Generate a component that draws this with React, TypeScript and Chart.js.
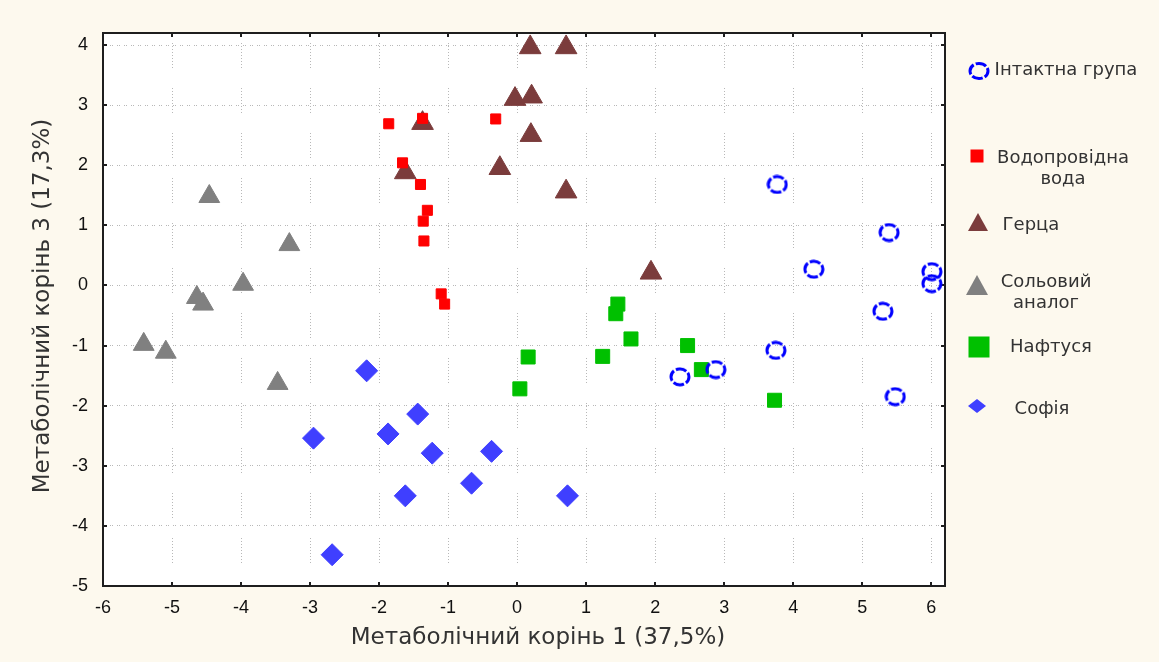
import React, { useEffect, useRef } from "react";
import { Chart, registerables } from "chart.js";

Chart.register(...registerables);

// ---- data ----
const xTickValues = [-6, -5, -4, -3, -2, -1, 0, 1, 2, 3, 4, 5, 6];
const yTickValues = [-5, -4, -3, -2, -1, 0, 1, 2, 3, 4];

const xTitle = "Метаболічний корінь 1 (37,5%)";
const yTitle = "Метаболічний корінь 3 (17,3%)";

const seriesNames = ["Інтактна група", "Водопровідна вода", "Герца", "Сольовий аналог", "Нафтуся", "Софія"];

const intactX = [3.77, 5.39, 4.3, 6.01, 6.01, 5.3, 3.75, 2.36, 2.88, 5.48];
const intactY = [1.68, 0.88, 0.27, 0.23, 0.03, -0.43, -1.08, -1.52, -1.4, -1.85];

const tapX = [-1.86, -1.37, -0.31, -1.66, -1.4, -1.3, -1.36, -1.35, -1.1, -1.05];
const tapY = [2.69, 2.78, 2.77, 2.04, 1.68, 1.25, 1.07, 0.74, -0.14, -0.31];

const hertzX = [0.19, 0.71, -0.03, 0.21, -1.37, 0.2, -0.25, -1.62, 0.71, 1.94];
const hertzY = [3.96, 3.96, 3.1, 3.14, 2.7, 2.5, 1.95, 1.88, 1.56, 0.21];

const saltX = [-4.46, -3.3, -3.97, -4.64, -4.55, -5.41, -5.09, -3.47];
const saltY = [1.48, 0.68, 0.02, -0.2, -0.31, -0.98, -1.11, -1.63];

const naftX = [1.46, 1.43, 1.65, 0.16, 1.24, 0.04, 2.47, 2.67, 3.73];
const naftY = [-0.31, -0.47, -0.89, -1.19, -1.18, -1.72, -1.0, -1.4, -1.91];

const sofiaX = [-2.18, -1.44, -1.87, -2.95, -1.23, -0.37, -0.66, -1.62, -2.68, 0.73];
const sofiaY = [-1.42, -2.14, -2.47, -2.54, -2.79, -2.76, -3.29, -3.5, -4.48, -3.5];

const colors = {
  intact: "#0000ff",
  tap: "#ff0000",
  hertz: "#7b3c3c",
  salt: "#808080",
  naft: "#00c000",
  sofia: "#3f3fff",
};

const toPoints = (xs: number[], ys: number[]) => xs.map((x, i) => ({ x, y: ys[i] }));

function makeRing(w: number, h: number, color: string, lw: number) {
  const c = document.createElement("canvas");
  c.width = w;
  c.height = h;
  const ctx = c.getContext("2d")!;
  ctx.strokeStyle = color;
  ctx.lineWidth = lw;
  ctx.setLineDash([11, 2.2]);
  ctx.lineDashOffset = 4;
  ctx.beginPath();
  ctx.ellipse(w / 2, h / 2, w / 2 - lw / 2 - 0.5, h / 2 - lw / 2 - 0.5, 0, 0, Math.PI * 2);
  ctx.stroke();
  return c;
}

const framePlugin = {
  id: "frame",
  beforeDatasetsDraw(chart: any) {
    const { ctx, chartArea } = chart;
    const { left, right, top, bottom } = chartArea;
    const xs = chart.scales.x;
    const ys = chart.scales.y;
    ctx.save();
    ctx.strokeStyle = "#1e1e1e";
    ctx.lineWidth = 2;
    ctx.strokeRect(left, top, right - left, bottom - top);
    ctx.lineWidth = 2;
    ctx.beginPath();
    xTickValues.forEach((v) => {
      const px = Math.round(xs.getPixelForValue(v));
      ctx.moveTo(px, bottom);
      ctx.lineTo(px, bottom - 4);
      ctx.moveTo(px, top);
      ctx.lineTo(px, top + 4);
    });
    yTickValues.forEach((v) => {
      const py = Math.round(ys.getPixelForValue(v));
      ctx.moveTo(left, py);
      ctx.lineTo(left + 4, py);
      ctx.moveTo(right, py);
      ctx.lineTo(right - 4, py);
    });
    ctx.stroke();
    ctx.restore();
  },
  afterDraw(chart: any) {
    const { ctx } = chart;
    ctx.save();
    ctx.fillStyle = "#333333";
    ctx.font = '23px "DejaVu Sans"';
    ctx.textAlign = "center";
    ctx.textBaseline = "middle";
    ctx.fillText(xTitle, 538, 638);
    ctx.translate(43, 306);
    ctx.rotate(-Math.PI / 2);
    ctx.fillText(yTitle, 0, 0);
    ctx.restore();
  },
};

type LegendItem = {
  lines: string[];
  cx: number;
  cy: number;
  mx: number;
  my: number;
  marker: React.ReactNode;
};

const W = 1159;
const H = 662;

export default function App() {
  const ref = useRef<HTMLCanvasElement | null>(null);

  useEffect(() => {
    const canvas = ref.current;
    if (!canvas) return;
    const ring = makeRing(22, 20, colors.intact, 3);
    const chart = new Chart(canvas, {
      type: "scatter",
      data: {
        datasets: [
          {
            label: seriesNames[0],
            data: toPoints(intactX, intactY),
            pointStyle: ring as any,
            pointRadius: 10,
            backgroundColor: colors.intact,
            borderColor: colors.intact,
          },
          {
            label: seriesNames[1],
            data: toPoints(tapX, tapY),
            pointStyle: "rect",
            pointRadius: 7.1,
            borderWidth: 1,
            backgroundColor: colors.tap,
            borderColor: colors.tap,
          },
          {
            label: seriesNames[2],
            data: toPoints(hertzX, hertzY),
            pointStyle: "triangle",
            pointRadius: 12.5,
            borderWidth: 1,
            backgroundColor: colors.hertz,
            borderColor: colors.hertz,
          },
          {
            label: seriesNames[3],
            data: toPoints(saltX, saltY),
            pointStyle: "triangle",
            pointRadius: 12,
            borderWidth: 1,
            backgroundColor: colors.salt,
            borderColor: colors.salt,
          },
          {
            label: seriesNames[4],
            data: toPoints(naftX, naftY),
            pointStyle: "rect",
            pointRadius: 9.9,
            borderWidth: 1,
            backgroundColor: colors.naft,
            borderColor: colors.naft,
          },
          {
            label: seriesNames[5],
            data: toPoints(sofiaX, sofiaY),
            pointStyle: "rectRot",
            pointRadius: 11,
            borderWidth: 1,
            backgroundColor: colors.sofia,
            borderColor: colors.sofia,
          },
        ],
      },
      options: {
        animation: false,
        responsive: false,
        devicePixelRatio: 1,
        layout: { padding: { left: 0, top: 33, right: 214, bottom: 0 } },
        plugins: {
          legend: { display: false },
          tooltip: { enabled: false },
        },
        scales: {
          x: {
            type: "linear",
            min: -6,
            max: 6.2,
            afterFit: (s: any) => {
              s.height = 76;
            },
            afterBuildTicks: (s: any) => {
              s.ticks = xTickValues.map((v) => ({ value: v }));
            },
            grid: { color: "#b8b8b8", lineWidth: 1, drawTicks: false },
            border: { display: false, dash: [1, 2, 1, 2, 1, 2, 1, 2, 1, 2, 1, 2, 1, 2, 1, 2, 1, 20], dashOffset: 35 },
            ticks: {
              color: "#111111",
              font: { family: '"Liberation Sans", Arial', size: 18 },
              padding: 11,
              maxRotation: 0,
            },
          },
          y: {
            type: "linear",
            min: -5,
            max: 4.2,
            afterFit: (s: any) => {
              s.width = 103;
            },
            afterBuildTicks: (s: any) => {
              s.ticks = yTickValues.map((v) => ({ value: v }));
            },
            grid: { color: "#b8b8b8", lineWidth: 1, drawTicks: false },
            border: { display: false, dash: [1, 1, 1, 4] },
            ticks: {
              color: "#111111",
              font: { family: '"Liberation Sans", Arial', size: 18 },
              padding: 15,
            },
          },
        },
      },
      plugins: [framePlugin],
    });
    return () => chart.destroy();
  }, []);

  const legendItems: LegendItem[] = [
    {
      lines: ["Інтактна група"],
      cx: 1066,
      cy: 68,
      mx: 979,
      my: 71,
      marker: (
        <svg width="24" height="22">
          <ellipse cx="12" cy="11" rx="9" ry="7.6" fill="none" stroke={colors.intact} strokeWidth="3" strokeDasharray="11 2.2" strokeDashoffset="4" />
        </svg>
      ),
    },
    {
      lines: ["Водопровідна", "вода"],
      cx: 1063,
      cy: 156,
      mx: 977,
      my: 156,
      marker: (
        <svg width="14" height="14">
          <rect x="0.5" y="0.5" width="13" height="13" fill={colors.tap} />
        </svg>
      ),
    },
    {
      lines: ["Герца"],
      cx: 1031,
      cy: 223,
      mx: 978,
      my: 222,
      marker: (
        <svg width="22" height="20">
          <polygon points="11,1 21,19 1,19" fill={colors.hertz} />
        </svg>
      ),
    },
    {
      lines: ["Сольовий", "аналог"],
      cx: 1046,
      cy: 280,
      mx: 977,
      my: 285,
      marker: (
        <svg width="24" height="22">
          <polygon points="12,1 23,21 1,21" fill={colors.salt} />
        </svg>
      ),
    },
    {
      lines: ["Нафтуся"],
      cx: 1051,
      cy: 345,
      mx: 979,
      my: 347,
      marker: (
        <svg width="22" height="22">
          <rect x="0.5" y="0.5" width="21" height="21" fill={colors.naft} />
        </svg>
      ),
    },
    {
      lines: ["Софія"],
      cx: 1042,
      cy: 407,
      mx: 977,
      my: 406,
      marker: (
        <svg width="20" height="16">
          <polygon points="1,8 10,1 19,8 10,15" fill={colors.sofia} />
        </svg>
      ),
    },
  ];

  const lineH = 21;

  return (
    <div
      style={{
        position: "absolute",
        left: 0,
        top: 0,
        width: W,
        height: H,
        background: "#fdf9ee",
        overflow: "hidden",
      }}
    >
      <div
        style={{
          position: "absolute",
          left: 103,
          top: 33,
          width: 842,
          height: 553,
          background: "#ffffff",
        }}
      />
      <canvas ref={ref} width={W} height={H} style={{ position: "absolute", left: 0, top: 0, width: W, height: H }} />
      {legendItems.map((it, i) => (
        <React.Fragment key={i}>
          <div
            style={{
              position: "absolute",
              left: it.mx,
              top: it.my,
              transform: "translate(-50%, -50%)",
              lineHeight: 0,
            }}
          >
            {it.marker}
          </div>
          <div
            style={{
              position: "absolute",
              left: it.cx - 100,
              top: it.cy - lineH / 2,
              width: 200,
              textAlign: "center",
              fontFamily: '"DejaVu Sans", sans-serif',
              fontSize: 18,
              lineHeight: lineH + "px",
              color: "#333333",
              whiteSpace: "nowrap",
            }}
          >
            {it.lines.map((l, j) => (
              <div key={j}>{l}</div>
            ))}
          </div>
        </React.Fragment>
      ))}
    </div>
  );
}
